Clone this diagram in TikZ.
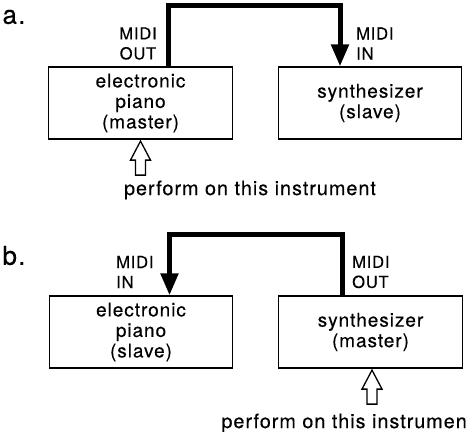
\documentclass[tikz,border=0pt]{standalone}
\usepackage{fontspec}
\setmainfont[LetterSpace=5,FakeBold=0.3]{TeX Gyre Heros}
\usetikzlibrary{arrows.meta}

\begin{document}
\begin{tikzpicture}[x=1pt, y=-1pt,
  box/.style={draw, line width=1.2pt, minimum width=183.5pt, minimum height=72pt,
    align=center, inner sep=0pt, font=\fontsize{19}{20.5}\selectfont},
  midi/.style={align=left, inner sep=0pt, font=\fontsize{16.5}{20}\selectfont},
  midiline/.style={line width=5pt, -{Triangle[length=22pt,width=17pt]}},
  perf/.style={inner sep=0pt, font=\fontsize{19.8}{20}\selectfont},
  part/.style={inner sep=0pt, font=\fontsize{26}{26}\selectfont},
  openarrow/.pic={\draw[line width=1.3pt] (0,0) -- (10,19) -- (5,19) -- (5,34)
    -- (-5,34) -- (-5,19) -- (-10,19) -- cycle;}]
 \useasboundingbox (0,0) rectangle (468,431);
 % a. piano is the master
 \node[part] (la) at (14,17) {a.};
 \node[box] (pa) at (140.5,103) {electronic\\piano\\(master)};
 \node[box] (sa) at (370,103) {synthesizer\\(slave)};
 \node[midi, align=center] (outa) at (138,43.5) {MIDI\\OUT};
 \node[midi, anchor=west] (ina) at (356,43.5) {MIDI\\IN};
 \coordinate (topa) at (168,5);
 \draw[midiline] (pa.north -| topa) -- (topa) -| ([xshift=-30pt]sa.north);
 \pic at ([yshift=-1.5pt]pa.south) {openarrow};
 \node[perf] (perfa) at (250,190) {perform on this instrument};
 % b. synthesizer is the master
 \node[part] (lb) at (14,255.5) {b.};
 \node[box] (pb) at (141,332) {electronic\\piano\\(slave)};
 \node[box] (sb) at (370.5,332) {synthesizer\\(master)};
 \node[midi, anchor=west] (inb) at (116,272) {MIDI\\IN};
 \node[midi, anchor=west] (outb) at (352,272) {MIDI\\OUT};
 \coordinate (topb) at (342,234);
 \draw[midiline] (sb.north -| topb) -- (topb) -| ([xshift=28.5pt]pb.north);
 \pic at ([xshift=1.5pt,yshift=-1.5pt]sb.south) {openarrow};
 \node[perf, anchor=east] (perfb) at (467,423) {perform on this instrumen};
\end{tikzpicture}
\end{document}
